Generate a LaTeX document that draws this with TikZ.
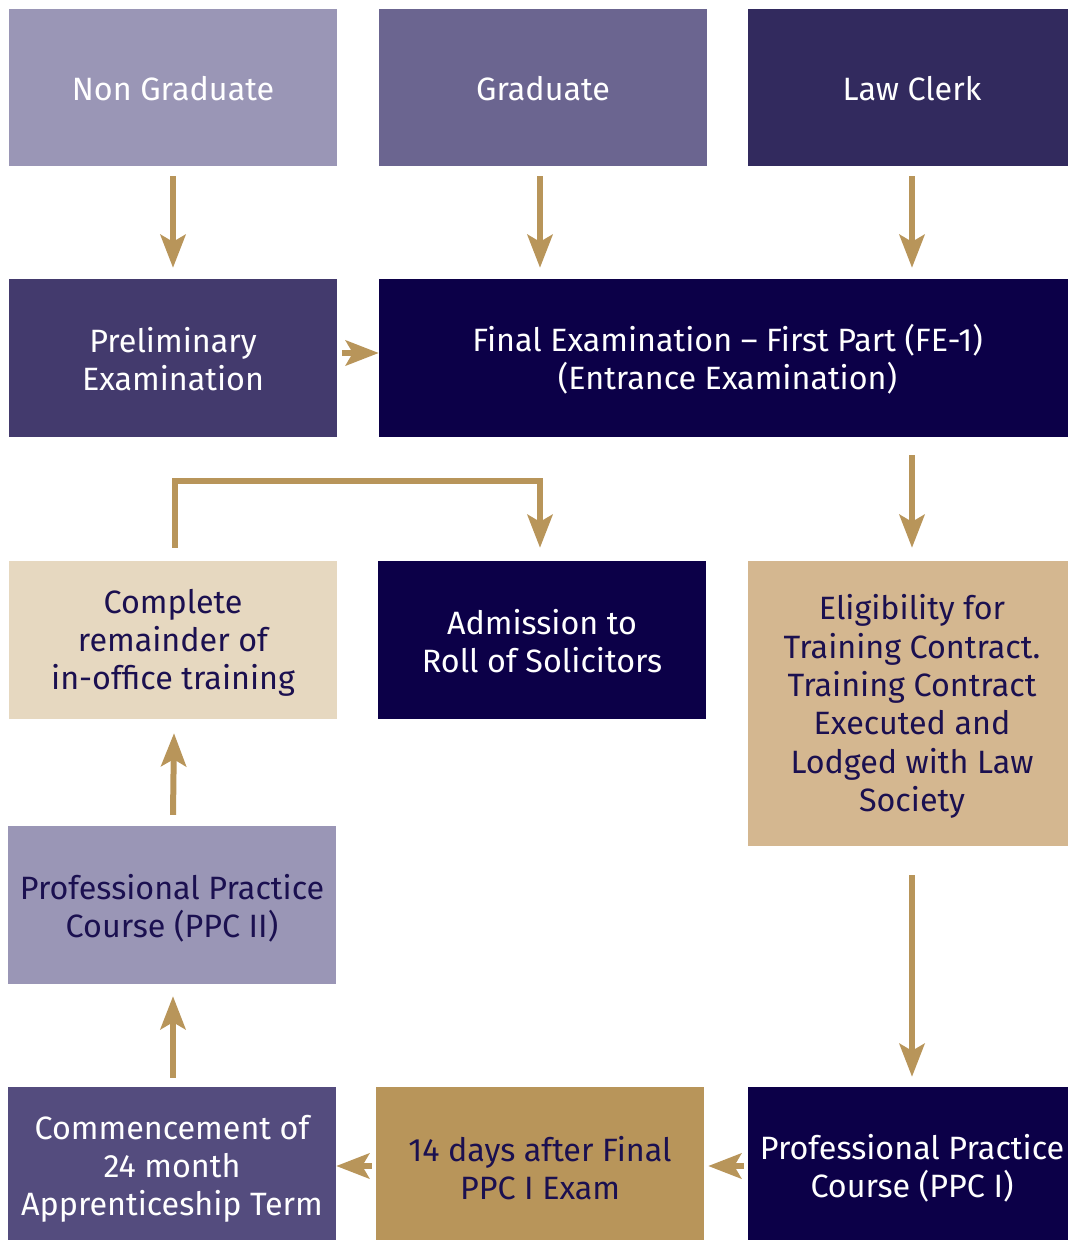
\documentclass[tikz,border=0pt]{standalone}
\usepackage{fontspec}
\setmainfont{Fira Sans}
\usetikzlibrary{arrows.meta}
\definecolor{cA}{HTML}{9A96B6}
\definecolor{cB}{HTML}{6B6590}
\definecolor{cC}{HTML}{322A5E}
\definecolor{cD}{HTML}{433A6D}
\definecolor{navy}{HTML}{0C0048}
\definecolor{cream}{HTML}{E6D8C0}
\definecolor{tan}{HTML}{D4B790}
\definecolor{gold}{HTML}{B8955A}
\definecolor{cE}{HTML}{544C7E}
\definecolor{dtext}{HTML}{1B1050}
\tikzset{
  box/.style={rectangle, inner sep=0pt, minimum width=328pt, minimum height=158pt},
  txt/.style={inner sep=0pt, align=center, font=\fontsize{32.3}{38.3}\selectfont},
  wt/.style={txt,text=white},
  dt/.style={txt,text=dtext},
  arr/.style={draw=gold, line width=6pt, -{Stealth[length=33pt, width=25pt, inset=7pt]}},
}
\begin{document}
\begin{tikzpicture}[x=1pt,y=-1pt]
\useasboundingbox (0,0) rectangle (1068,1240);
\clip (0,0) rectangle (1068,1240);
% row 1
\node[box,fill=cA,minimum height=157pt] (ng) at (173,87.5) {};
\node[wt] (ngt) at ([yshift=-1pt]ng.center) {Non Graduate};
\node[box,fill=cB,minimum height=157pt] (gr) at (543,87.5) {};
\node[wt] (grt) at ([yshift=-1pt]gr.center) {Graduate};
\node[box,fill=cC,minimum height=157pt] (lc) at (912,87.5) {};
\node[wt] (lct) at ([yshift=-1pt]lc.center) {Law Clerk};
% row 2
\node[box,fill=cD] (pe) at (173,358) {};
\node[wt] (pet) at ([yshift=-1pt]pe.center) {Preliminary\\Examination};
\node[box,fill=navy,minimum width=697pt] (fe) at (727.5,358) {};
\node[wt] (fet) at ([yshift=-1pt]fe.center) {Final Examination -- First Part (FE-1)\\(Entrance Examination)};
% row 3
\node[box,fill=cream] (cr) at (173,640) {};
\node[dt] (crt) at ([yshift=-3pt]cr.center) {Complete\\remainder of\\in-office training};
\node[box,fill=navy] (ad) at (542,640) {};
\node[wt] (adt) at ([yshift=-1pt]ad.center) {Admission to\\Roll of Solicitors};
\node[box,fill=tan,minimum height=285pt] (el) at (912,703.5) {};
\node[dt] (elt) at ([yshift=-3pt]el.center) {Eligibility for\\Training Contract.\\Training Contract\\Executed and\\Lodged with Law\\Society};
% row 4
\node[box,fill=cA] (p2) at (172,905) {};
\node[dt] (p2t) at ([yshift=-3pt]p2.center) {Professional Practice\\Course (PPC II)};
% row 5
\node[box,fill=cE] (cm) at (172,1166) {};
\node[wt] (cmt) at ([yshift=-3pt]cm.center) {Commencement of\\24 month\\Apprenticeship Term};
\node[box,fill=gold] (fd) at (540,1166) {};
\node[dt] (fdt) at ([yshift=-2pt]fd.center) {14 days after Final\\PPC I Exam};
\node[box,fill=navy] (p1) at (912,1166) {};
\node[wt] (p1t) at ([yshift=-2pt]p1.center) {Professional Practice\\Course (PPC I)};
% arrows
\draw[arr] ([yshift=-10pt]ng.south) -- ([yshift=11pt]pe.north);
\draw[arr] ([xshift=-3pt,yshift=-10pt]gr.south) -- ([xshift=-3pt,yshift=11pt]gr.south |- fe.north);
\draw[arr] ([yshift=-10pt]lc.south) -- ([yshift=11pt]lc.south |- fe.north);
\draw[arr] ([xshift=5pt,yshift=5pt]pe.east) -- ([yshift=5pt]fe.west);
\draw[arr] ([yshift=-18pt]el.north |- fe.south) -- ([yshift=13pt]el.north);
\coordinate (bA) at ([xshift=2pt,yshift=80pt]cr.north);
\coordinate (bB) at ([xshift=-2pt,yshift=80pt]ad.north);
\draw[arr] ([xshift=2pt,yshift=13pt]cr.north) -- (bA) -- (bB) -- ([xshift=-2pt,yshift=13pt]ad.north);
\draw[arr] ([yshift=-29pt]el.south) -- ([yshift=10pt]p1.north);
\draw[arr] ([xshift=1pt,yshift=11pt]p2.north) -- ([xshift=1pt,yshift=-14pt]cr.south);
\draw[arr] ([xshift=1pt,yshift=9pt]cm.north) -- ([xshift=1pt,yshift=-12pt]p2.south);
\draw[arr] ([xshift=-4pt]p1.west) -- ([xshift=4pt]fd.east);
\draw[arr] ([xshift=-4pt]fd.west) -- (cm.east);
\end{tikzpicture}
\end{document}
